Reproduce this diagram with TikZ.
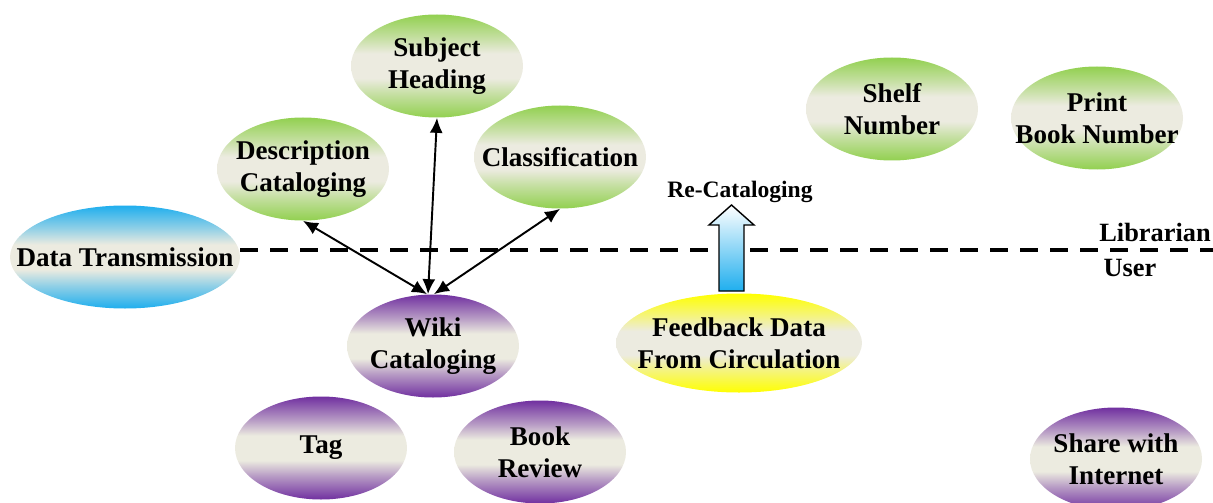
\documentclass[tikz,border=0pt]{standalone}
\usepackage{fontspec}
\setmainfont{Liberation Serif}
\usetikzlibrary{arrows.meta, shapes.geometric}

\definecolor{leafgreen}{HTML}{92D050}
\definecolor{grape}{HTML}{7030A0}
\definecolor{skyblue}{HTML}{1FAEEE}
\definecolor{lemon}{HTML}{FFFF00}
\definecolor{paper}{HTML}{ECEBE0}

% band shadings: strong rim, pale middle
\newcommand{\bandshade}[2]{%
  \pgfdeclareverticalshading{#1}{100bp}{color(0bp)=(#2); color(25bp)=(#2);
    color(36bp)=(#2!45!paper); color(44bp)=(paper); color(56bp)=(paper);
    color(64bp)=(#2!45!paper); color(75bp)=(#2); color(100bp)=(#2)}}
\bandshade{greenband}{leafgreen}
\bandshade{grapeband}{grape}
\bandshade{skyband}{skyblue}
\bandshade{lemonband}{lemon}

\begin{document}
\begin{tikzpicture}[
    bubble/.style={ellipse, minimum width=3.44cm, minimum height=2.06cm, inner xsep=-0.7cm, inner ysep=0pt, align=center, font=\fontsize{15.4}{18}\selectfont\bfseries},
    staff/.style={bubble, shading=greenband},
    reader/.style={bubble, shading=grapeband},
    transfer/.style={bubble, shading=skyband, minimum width=4.6cm},
    feedback/.style={bubble, shading=lemonband, minimum width=4.92cm, minimum height=1.98cm},
    label/.style={font=\fontsize{15}{18}\selectfont\bfseries, inner sep=0pt},
    link/.style={{Latex[length=3mm, width=2.6mm]}-{Latex[length=3mm, width=2.6mm]}, line width=1.1pt},
    divider/.style={dashed, dash pattern=on 3.6mm off 2.4mm, line width=2.2pt}
]
    \useasboundingbox (0,0) rectangle (24.26,10.04);

    % Librarian side
    \node[staff] (subj) at (8.74, 8.72) {Subject\\Heading};
    \node[staff] (desc) at (6.06, 6.66) {Description\\Cataloging};
    \node[staff] (clas) at (11.20, 6.90) {Classification};
    \node[staff] (shelf) at (17.84, 7.86) {Shelf\\Number};
    \node[staff] (print) at (21.94, 7.68) {Print\\Book Number};

    % Boundary
    \node[transfer] (data) at (2.50, 4.90) {Data Transmission};
    \coordinate (divL) at (4.80, 5.04);
    \coordinate (divR) at (24.26, 5.04);
    \draw[divider] (divL) -- (divR);
    \node[label] (lib) at (23.10, 5.40) {Librarian};
    \node[label] (user) at (22.60, 4.68) {User};

    % User side
    \node[reader] (wiki) at (8.66, 3.12) {Wiki\\Cataloging};
    \node[feedback] (feed) at (14.78, 3.18) {Feedback Data\\From Circulation};
    \node[reader] (tag) at (6.42, 1.08) {Tag};
    \node[reader] (review) at (10.80, 1.00) {Book\\Review};
    \node[reader] (share) at (22.32, 0.86) {Share with\\Internet};

    % Links
    \draw[link] (desc.south) -- ([xshift=-1.2mm]wiki.north);
    \draw[link] (subj.south) -- ([xshift=-1mm]wiki.north);
    \draw[link] (clas.south) -- ([xshift=0.2mm]wiki.north);

    % Re-cataloging
    \coordinate (lift) at (14.63, 4.22);
    \shade[top color=white, bottom color=skyblue, draw=black, line width=0.8pt]
        ([xshift=-2.5mm]lift) -- ++(0,1.32) -- ++(-0.2,0) -- ++(0.45,0.4)
        -- ++(0.45,-0.4) -- ++(-0.2,0) -- ++(0,-1.32) -- cycle;
    \node[font=\fontsize{13.4}{16}\selectfont\bfseries, inner sep=0pt] (recat) at (14.80, 6.20) {Re-Cataloging};

\end{tikzpicture}
\end{document}
